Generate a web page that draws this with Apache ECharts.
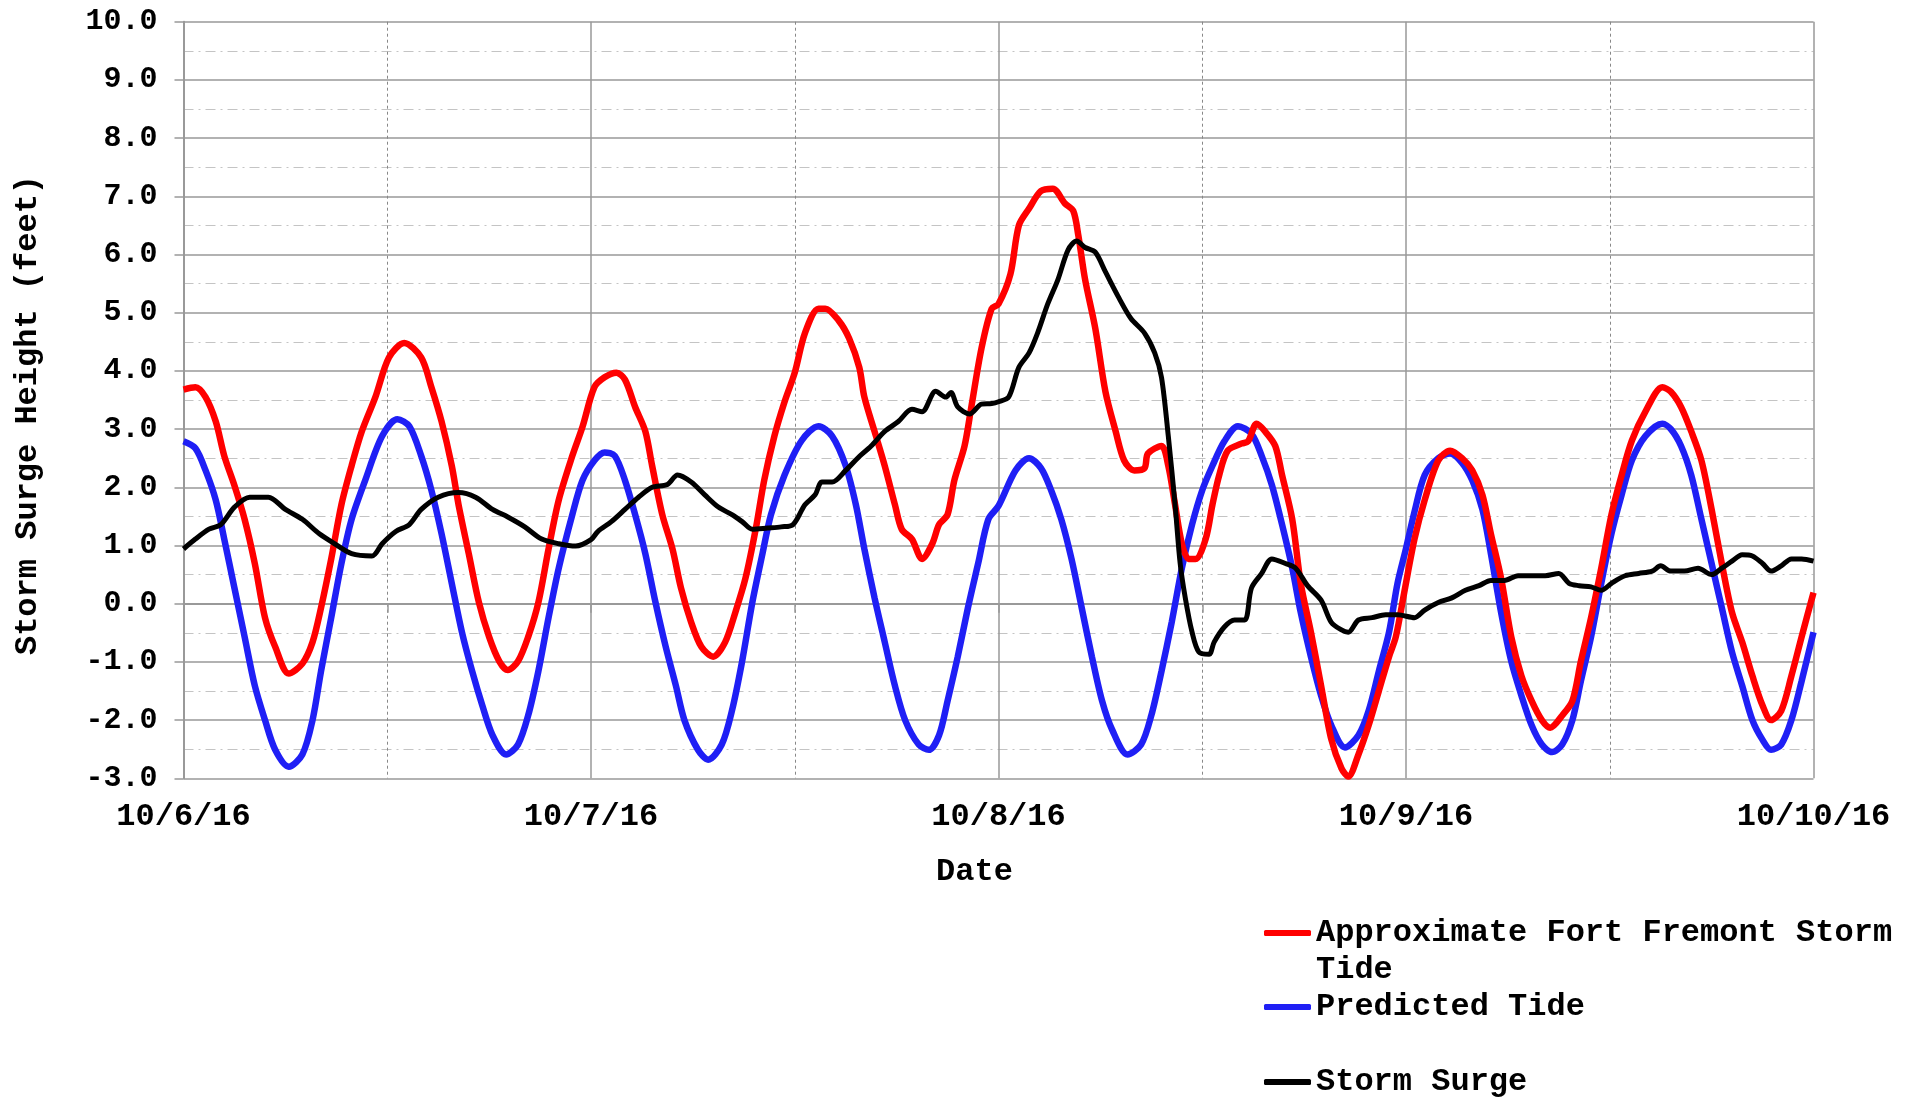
<!DOCTYPE html>
<html>
<head>
<meta charset="utf-8">
<script src="https://cdn.jsdelivr.net/npm/echarts@6/dist/echarts.min.js"></script>
<style>
html,body{margin:0;padding:0;background:#fff;}
#chart{width:1919px;height:1098px;}
</style>
</head>
<body>
<div id="chart"></div>
<script>
// x = hours since 10/6/16 00:00
const dayLabels = ['10/6/16', '10/7/16', '10/8/16', '10/9/16', '10/10/16'];
const yTicks = [-3, -2, -1, 0, 1, 2, 3, 4, 5, 6, 7, 8, 9, 10];

const seriesNames = ['Approximate Fort Fremont Storm Tide', 'Predicted Tide', 'Storm Surge'];

const stormTideHours = [0,0.7,1.3,1.9,2.4,3.0,3.6,4.2,4.8,5.4,6.2,7.0,7.6,8.1,8.7,9.3,9.9,10.5,11.3,12.1,13.0,14.0,14.6,15.2,15.8,16.2,16.8,17.4,18.0,18.6,19.1,19.7,20.3,20.9,21.5,22.1,22.9,23.5,
  24.2,24.8,25.5,26.0,26.6,27.2,27.6,28.2,28.8,29.3,29.9,30.5,31.2,31.9,32.5,33.1,33.7,34.2,34.8,35.4,36.0,36.6,37.4,37.8,38.6,39.2,39.8,40.1,40.7,41.3,41.9,42.3,42.9,43.5,44.1,44.5,45.0,45.4,46.0,46.4,47.0,47.6,
  48.0,48.7,49.2,49.8,50.5,51.2,51.9,52.4,52.7,53.1,53.7,54.3,54.9,55.4,56.0,56.6,56.8,57.6,58.0,58.4,58.8,59.2,59.6,60.2,60.6,61.0,61.5,62.3,62.7,63.2,63.7,64.3,64.7,65.3,65.8,66.4,67.0,67.6,68.2,68.6,69.2,69.8,70.4,71.0,71.4,71.9,
  72.5,73.1,73.9,74.6,75.3,75.9,76.5,77.0,77.6,78.2,78.8,79.4,80.0,80.5,81.2,81.8,82.3,82.9,83.5,84.1,84.7,85.3,86.1,87.1,87.6,88.2,88.8,89.4,90.0,90.6,91.2,91.8,92.4,93.0,93.5,94.1,94.7,95.3,96.0];
const stormTideValues = [3.68,3.72,3.55,3.13,2.54,2.03,1.45,0.69,-0.24,-0.74,-1.2,-1.03,-0.66,-0.07,0.77,1.70,2.37,2.96,3.55,4.23,4.48,4.23,3.72,3.13,2.37,1.70,0.86,0.02,-0.57,-0.99,-1.14,-0.99,-0.57,0.02,0.94,1.78,2.54,3.04,
  3.72,3.89,3.97,3.85,3.38,2.96,2.37,1.53,0.94,0.27,-0.32,-0.74,-0.91,-0.66,-0.15,0.44,1.28,2.12,2.88,3.47,3.97,4.65,5.07,5.07,4.86,4.56,4.06,3.55,2.96,2.37,1.70,1.28,1.11,0.77,1.03,1.36,1.53,2.12,2.71,3.38,4.39,5.07,
  5.15,5.66,6.50,6.79,7.09,7.13,6.88,6.75,6.33,5.57,4.73,3.64,2.96,2.46,2.29,2.33,2.58,2.71,2.37,1.70,1.03,0.77,0.77,1.11,1.70,2.21,2.63,2.75,2.79,3.09,2.96,2.71,2.21,1.45,0.35,-0.49,-1.41,-2.33,-2.83,-2.97,-2.59,-2.09,-1.50,-0.91,-0.57,0.20,
  1.11,1.78,2.46,2.63,2.50,2.29,1.87,1.20,0.44,-0.57,-1.24,-1.67,-2.0,-2.13,-1.92,-1.67,-0.99,-0.24,0.61,1.53,2.21,2.80,3.30,3.72,3.64,3.38,2.96,2.46,1.62,0.69,-0.15,-0.66,-1.24,-1.75,-2.0,-1.84,-1.24,-0.57,0.19];

const predictedHours = [0,0.7,1.3,1.9,2.4,3.0,3.6,4.2,4.8,5.4,6.2,7.0,7.6,8.1,8.7,9.3,9.9,10.7,11.7,12.6,13.3,14.0,14.6,15.2,15.8,16.4,17.0,17.6,18.2,19.0,19.7,20.3,20.9,21.5,22.1,22.9,23.5,
  24.2,24.8,25.4,26.0,26.6,27.2,27.8,28.4,29.0,29.5,30.3,30.9,31.7,32.3,32.9,33.5,34.1,34.6,35.4,36.4,37.4,38.2,39.0,39.6,40.1,40.7,41.3,41.9,42.5,43.3,43.9,44.5,45.0,45.6,46.2,46.8,47.4,
  48.0,49.0,49.8,50.5,51.1,51.7,52.3,52.9,53.5,54.1,54.7,55.6,56.4,57.0,57.6,58.2,58.8,59.4,60.0,60.6,61.3,62.1,62.9,63.5,64.1,64.7,65.3,65.8,66.4,67.0,67.6,68.4,69.2,69.8,70.4,71.0,71.5,72.0,
  72.5,73.1,73.9,74.6,75.3,75.9,76.5,77.0,77.6,78.2,78.8,79.4,80.0,80.6,81.2,81.8,82.3,82.9,83.5,84.1,84.7,85.3,86.1,87.1,87.6,88.2,88.8,89.4,90.0,90.6,91.2,91.8,92.4,93.0,93.5,94.1,94.7,95.3,96.0];
const predictedValues = [2.79,2.67,2.29,1.78,1.11,0.27,-0.57,-1.41,-2.0,-2.51,-2.80,-2.59,-2.0,-1.16,-0.24,0.69,1.45,2.12,2.88,3.17,3.05,2.54,1.95,1.20,0.35,-0.49,-1.16,-1.75,-2.26,-2.59,-2.42,-1.92,-1.16,-0.24,0.61,1.53,2.12,
  2.46,2.60,2.54,2.12,1.53,0.86,0.02,-0.74,-1.41,-2.0,-2.51,-2.68,-2.42,-1.84,-0.99,0.02,0.86,1.53,2.21,2.80,3.05,2.88,2.37,1.70,0.94,0.10,-0.66,-1.41,-2.0,-2.42,-2.51,-2.26,-1.67,-0.91,-0.07,0.69,1.45,
  1.68,2.29,2.50,2.33,1.95,1.45,0.77,-0.07,-0.91,-1.67,-2.17,-2.59,-2.42,-1.92,-1.16,-0.32,0.61,1.36,1.95,2.37,2.79,3.05,2.92,2.54,2.04,1.36,0.61,-0.15,-0.91,-1.58,-2.09,-2.47,-2.26,-1.84,-1.16,-0.49,0.35,0.95,
  1.58,2.21,2.50,2.58,2.42,2.12,1.62,0.86,-0.15,-0.99,-1.58,-2.09,-2.42,-2.55,-2.42,-2.0,-1.33,-0.57,0.35,1.20,1.87,2.46,2.88,3.09,3.0,2.71,2.21,1.45,0.69,-0.07,-0.83,-1.41,-2.0,-2.34,-2.51,-2.42,-2.0,-1.33,-0.49];

const surgeHours = [0,0.7,1.5,2.2,3.0,3.9,5.0,6.0,7.0,8.0,8.9,9.9,11.1,11.7,12.5,13.3,14.0,15.0,16.2,17.2,18.2,19.1,20.1,21.1,22.1,23.1,
  24.0,24.4,25.2,26.0,26.8,27.6,28.5,29.1,29.9,30.7,31.5,32.3,32.9,33.5,34.4,35.2,35.9,36.6,37.2,37.6,38.2,39.0,39.7,40.5,41.3,42.1,42.9,43.5,44.3,44.9,45.2,45.6,46.3,47.0,47.6,
  48.0,48.6,49.2,49.8,50.3,50.9,51.5,52.1,52.6,53.1,53.7,54.3,55.1,55.8,56.6,57.2,57.6,58.0,58.4,58.7,59.0,59.4,59.8,60.4,60.7,61.3,61.9,62.5,62.9,63.5,64.1,64.9,65.5,66.2,67.0,67.6,68.2,68.6,69.2,70.0,70.8,71.5,
  72.5,73.1,73.9,74.7,75.5,76.3,77.0,77.8,78.6,79.4,80.2,81.0,81.6,82.2,82.9,83.5,84.1,84.9,85.7,86.5,87.0,87.6,88.4,89.2,90.0,90.6,91.2,91.8,92.4,93.0,93.5,94.1,94.7,95.3,96.0];
const surgeValues = [0.94,1.11,1.28,1.36,1.66,1.83,1.83,1.62,1.45,1.20,1.03,0.86,0.82,1.03,1.24,1.36,1.62,1.83,1.91,1.83,1.62,1.49,1.32,1.11,1.03,0.99,
  1.10,1.24,1.41,1.62,1.83,2.0,2.05,2.21,2.09,1.87,1.66,1.53,1.41,1.28,1.30,1.32,1.36,1.70,1.87,2.09,2.09,2.29,2.50,2.71,2.96,3.13,3.34,3.30,3.65,3.55,3.63,3.38,3.26,3.43,3.44,
  3.47,3.55,4.06,4.31,4.65,5.15,5.57,6.08,6.23,6.12,6.04,5.70,5.25,4.90,4.65,4.31,3.89,2.88,1.70,0.69,0.10,-0.49,-0.83,-0.87,-0.66,-0.40,-0.28,-0.28,0.27,0.52,0.77,0.69,0.61,0.31,0.06,-0.32,-0.45,-0.49,-0.28,-0.24,-0.19,-0.19,
  -0.24,-0.11,0.02,0.10,0.23,0.31,0.40,0.40,0.48,0.48,0.48,0.52,0.35,0.31,0.29,0.23,0.35,0.48,0.52,0.56,0.65,0.56,0.56,0.61,0.50,0.61,0.73,0.84,0.82,0.69,0.56,0.65,0.77,0.77,0.73];

function pairs(xs, ys) { return xs.map((x, i) => [x, ys[i]]); }

const FONT = 'Liberation Mono';
const chart = echarts.init(document.getElementById('chart'), null, {renderer: 'canvas'});

const legendCommon = {
  orient: 'vertical',
  left: 1264,
  padding: 0,
  itemWidth: 47,
  itemHeight: 6,
  icon: 'roundRect',
  selectedMode: false,
  textStyle: {fontFamily: FONT, fontWeight: 'bold', fontSize: 32, color: '#000', lineHeight: 37}
};

chart.setOption({
  animation: false,
  backgroundColor: '#fff',
  grid: {left: 183.5, right: 105.5, top: 21.7, bottom: 319.7, containLabel: false},
  legend: [
    Object.assign({}, legendCommon, {top: 877.5, data: [seriesNames[0]],
      formatter: () => '\nApproximate Fort Fremont Storm\nTide'}),
    Object.assign({}, legendCommon, {top: 988.5, data: [seriesNames[1]]}),
    Object.assign({}, legendCommon, {top: 1063.5, data: [seriesNames[2]]})
  ],
  xAxis: {
    type: 'value', min: 0, max: 96, interval: 24,
    name: 'Date', nameLocation: 'middle', nameGap: 78,
    nameTextStyle: {fontFamily: FONT, fontWeight: 'bold', fontSize: 32, color: '#000', padding: [0, 48, 0, 0]},
    axisLine: {show: true, lineStyle: {color: '#999', width: 2}},
    axisTick: {show: true, inside: false, length: 9, lineStyle: {color: '#999', width: 1.5}},
    minorTick: {show: true, splitNumber: 2, length: 9, lineStyle: {color: '#999', width: 1.5}},
    axisLabel: {margin: 23, fontFamily: FONT, fontWeight: 'bold', fontSize: 32, color: '#000',
      showMinLabel: true, showMaxLabel: true,
      formatter: v => dayLabels[Math.round(v / 24)] || ''},
    splitLine: {show: true, lineStyle: {color: '#999', width: 1.5, type: 'solid'}},
    minorSplitLine: {show: true, lineStyle: {color: '#888', width: 1, type: [3, 3]}}
  },
  yAxis: {
    type: 'value', min: yTicks[0], max: yTicks[yTicks.length - 1], interval: 1,
    name: 'Storm Surge Height (feet)', nameLocation: 'middle', nameGap: 140, nameRotate: 90,
    nameTextStyle: {fontFamily: FONT, fontWeight: 'bold', fontSize: 32, color: '#000', padding: [0, 30, 0, 0]},
    axisLine: {show: true, lineStyle: {color: '#999', width: 2}},
    axisTick: {show: true, inside: false, length: 9, lineStyle: {color: '#999', width: 1.5}},
    minorTick: {show: false, splitNumber: 2},
    axisLabel: {margin: 26, fontFamily: FONT, fontWeight: 'bold', fontSize: 30, color: '#000',
      formatter: v => v.toFixed(1)},
    splitLine: {show: true, lineStyle: {color: '#999', width: 1.5, type: 'solid'}},
    minorSplitLine: {show: true, lineStyle: {color: '#c4c4c4', width: 1, type: [10, 5, 2, 5]}}
  },
  series: [
    {name: seriesNames[0], type: 'line', data: pairs(stormTideHours, stormTideValues), showSymbol: false, smooth: 0.3,
      lineStyle: {color: '#ff0000', width: 6.5}, itemStyle: {color: '#ff0000'}, z: 3},
    {name: seriesNames[1], type: 'line', data: pairs(predictedHours, predictedValues), showSymbol: false, smooth: 0.3,
      lineStyle: {color: '#1f1ff5', width: 6.5}, itemStyle: {color: '#1f1ff5'}, z: 2},
    {name: seriesNames[2], type: 'line', data: pairs(surgeHours, surgeValues), showSymbol: false, smooth: 0.3,
      lineStyle: {color: '#000000', width: 5}, itemStyle: {color: '#000000'}, z: 4}
  ]
});
</script>
</body>
</html>
